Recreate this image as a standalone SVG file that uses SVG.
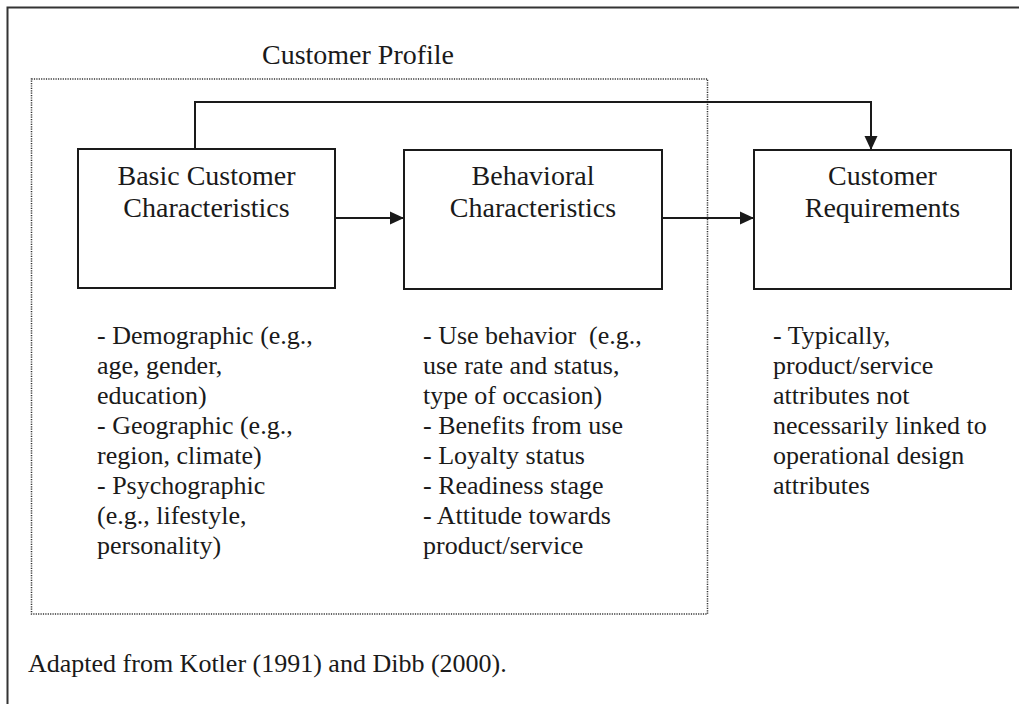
<svg xmlns="http://www.w3.org/2000/svg" width="1019" height="704" viewBox="0 0 1019 704">
<style>
  text { font-family: "Liberation Serif", "Times New Roman", serif; fill: #1a1a1a; }
  .title { font-size: 28px; text-anchor: middle; }
  .body { font-size: 26px; }
  .box { fill: #ffffff; stroke: #1a1a1a; stroke-width: 2; }
  .conn { fill: none; stroke: #1a1a1a; stroke-width: 2; }
</style>
<defs>
  <marker id="arrow" markerWidth="14" markerHeight="14" refX="13" refY="7" orient="auto" markerUnits="userSpaceOnUse">
    <path d="M0,0.5 L14,7 L0,13.5 Z" fill="#1a1a1a"/>
  </marker>
</defs>
<rect width="1019" height="704" fill="#ffffff"/>
<g id="frame">
  <path d="M7.5,704 L7.5,7.5 L1019,7.5" fill="none" stroke="#333" stroke-width="2"/>
</g>
<g id="customer-profile">
  <rect x="31.5" y="79" width="676" height="535" fill="none" stroke="#333" stroke-width="1.5" stroke-dasharray="1.2 1.2"/>
  <text class="title" x="358" y="64">Customer Profile</text>
</g>
<g id="connectors">
  <path class="conn" d="M335,218 L403,218" marker-end="url(#arrow)"/>
  <path class="conn" d="M662,218 L753,218" marker-end="url(#arrow)"/>
  <path class="conn" d="M195,149 L195,102 L871,102 L871,149" marker-end="url(#arrow)"/>
</g>
<g id="basic">
  <rect class="box" x="78" y="149" width="257" height="139"/>
  <text class="title" x="206.5" y="185">Basic Customer</text>
  <text class="title" x="206.5" y="217">Characteristics</text>
</g>
<g id="behavioral">
  <rect class="box" x="404" y="150" width="258" height="139"/>
  <text class="title" x="533" y="185">Behavioral</text>
  <text class="title" x="533" y="217">Characteristics</text>
</g>
<g id="requirements">
  <rect class="box" x="754" y="150" width="257" height="139"/>
  <text class="title" x="882.5" y="185">Customer</text>
  <text class="title" x="882.5" y="217">Requirements</text>
</g>
<g id="basic-notes">
  <text class="body" x="97" y="344">- Demographic (e.g.,</text>
  <text class="body" x="97" y="374">age, gender,</text>
  <text class="body" x="97" y="404">education)</text>
  <text class="body" x="97" y="434">- Geographic (e.g.,</text>
  <text class="body" x="97" y="464">region, climate)</text>
  <text class="body" x="97" y="494">- Psychographic</text>
  <text class="body" x="97" y="524">(e.g., lifestyle,</text>
  <text class="body" x="97" y="554">personality)</text>
</g>
<g id="behavioral-notes">
  <text class="body" x="423" y="344" xml:space="preserve">- Use behavior  (e.g.,</text>
  <text class="body" x="423" y="374">use rate and status,</text>
  <text class="body" x="423" y="404">type of occasion)</text>
  <text class="body" x="423" y="434">- Benefits from use</text>
  <text class="body" x="423" y="464">- Loyalty status</text>
  <text class="body" x="423" y="494">- Readiness stage</text>
  <text class="body" x="423" y="524">- Attitude towards</text>
  <text class="body" x="423" y="554">product/service</text>
</g>
<g id="requirements-notes">
  <text class="body" x="773" y="344">- Typically,</text>
  <text class="body" x="773" y="374">product/service</text>
  <text class="body" x="773" y="404">attributes not</text>
  <text class="body" x="773" y="434">necessarily linked to</text>
  <text class="body" x="773" y="464">operational design</text>
  <text class="body" x="773" y="494">attributes</text>
</g>
<g id="footer">
  <text class="body" x="28" y="672">Adapted from Kotler (1991) and Dibb (2000).</text>
</g>
</svg>
